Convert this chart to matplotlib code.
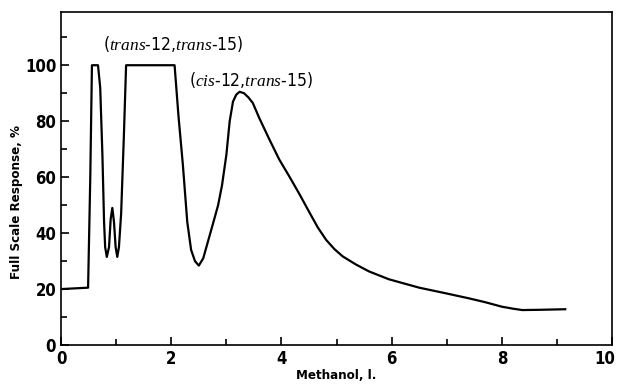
import numpy as np
import matplotlib.pyplot as plt
import matplotlib.transforms as mtransforms
from matplotlib.ticker import MultipleLocator

plt.rcParams['font.family'] = ['DejaVu Sans']
plt.rcParams['font.stretch'] = 'condensed'
plt.rcParams['mathtext.fontset'] = 'custom'
plt.rcParams['mathtext.it'] = 'Liberation Serif:italic'

# methanol volume (l) vs full scale response (%)
methanol = [0.0, 0.49, 0.53, 0.56, 0.67, 0.71, 0.75, 0.78, 0.80, 0.83, 0.87,
            0.90, 0.93, 0.96, 0.99, 1.02, 1.05, 1.09, 1.14, 1.18, 1.60, 2.06,
            2.13, 2.21, 2.29, 2.36, 2.43, 2.50, 2.58, 2.68, 2.78, 2.85, 2.92,
            3.00, 3.06, 3.12, 3.18, 3.24, 3.32, 3.40, 3.48, 3.60, 3.78, 3.96, 4.15,
            4.33, 4.51, 4.66, 4.81, 4.96, 5.11, 5.35, 5.59, 5.95, 6.50, 6.98,
            7.40, 7.70, 8.00, 8.20, 8.37, 8.70, 9.15]
response = [20.0, 20.5, 60, 100, 100, 92, 68, 44, 35, 31.5, 35,
            45, 49, 44, 35, 31.5, 35, 47, 75, 100, 100, 100,
            82, 64.5, 44, 34, 30, 28.4, 31, 38, 45, 50, 57,
            68, 80, 87, 89.5, 90.5, 90, 88.5, 86.5, 81, 73.5, 66.3, 60,
            53.8, 47.3, 42, 37.6, 34.3, 31.7, 28.8, 26.3, 23.5, 20.5, 18.5,
            16.7, 15.3, 13.7, 13.0, 12.5, 12.6, 12.8]

fig = plt.figure(figsize=(6.17, 3.89), dpi=100)
ax = fig.add_axes([0.099, 0.113, 0.893, 0.856])
ax.plot(methanol, response, color='black', lw=1.6, solid_joinstyle='round')

ax.set_xlim(0, 10)
ax.set_ylim(0, 119)
ax.set_xticks([0, 2, 4, 6, 8, 10])
ax.xaxis.set_minor_locator(MultipleLocator(1))
ax.yaxis.set_minor_locator(MultipleLocator(10))
ax.set_yticks([0, 20, 40, 60, 80, 100])
ax.tick_params(which='both', direction='in', top=False, right=False,
               labelsize=12, width=1.2)
ax.tick_params(which='major', length=6)
ax.tick_params(which='minor', length=4)
for lab in ax.get_xticklabels() + ax.get_yticklabels():
    lab.set_fontweight('bold')
    lab.set_fontstretch('condensed')
# last x label sits at the figure edge, nudge it so it stays inside
last = ax.get_xticklabels()[-1]
last.set_horizontalalignment('right')
last.set_transform(last.get_transform() +
                   mtransforms.ScaledTranslation(2.5 / 72, 0, fig.dpi_scale_trans))
for s in ax.spines.values():
    s.set_linewidth(1.2)

ax.set_xlabel('Methanol, l.', fontsize=9.5, fontweight='bold', labelpad=1)
ax.set_ylabel('Full Scale Response, %', fontsize=9.5, fontweight='bold')
ax.yaxis.set_label_coords(-0.07, 0.43)

ax.text(0.76, 107.5, r'($\mathit{trans}$-12,$\mathit{trans}$-15)', fontsize=12.5, va='center')
ax.text(2.33, 94.6, r'($\mathit{cis}$-12,$\mathit{trans}$-15)', fontsize=12.5, va='center')

fig.savefig('out.png', dpi=100)
